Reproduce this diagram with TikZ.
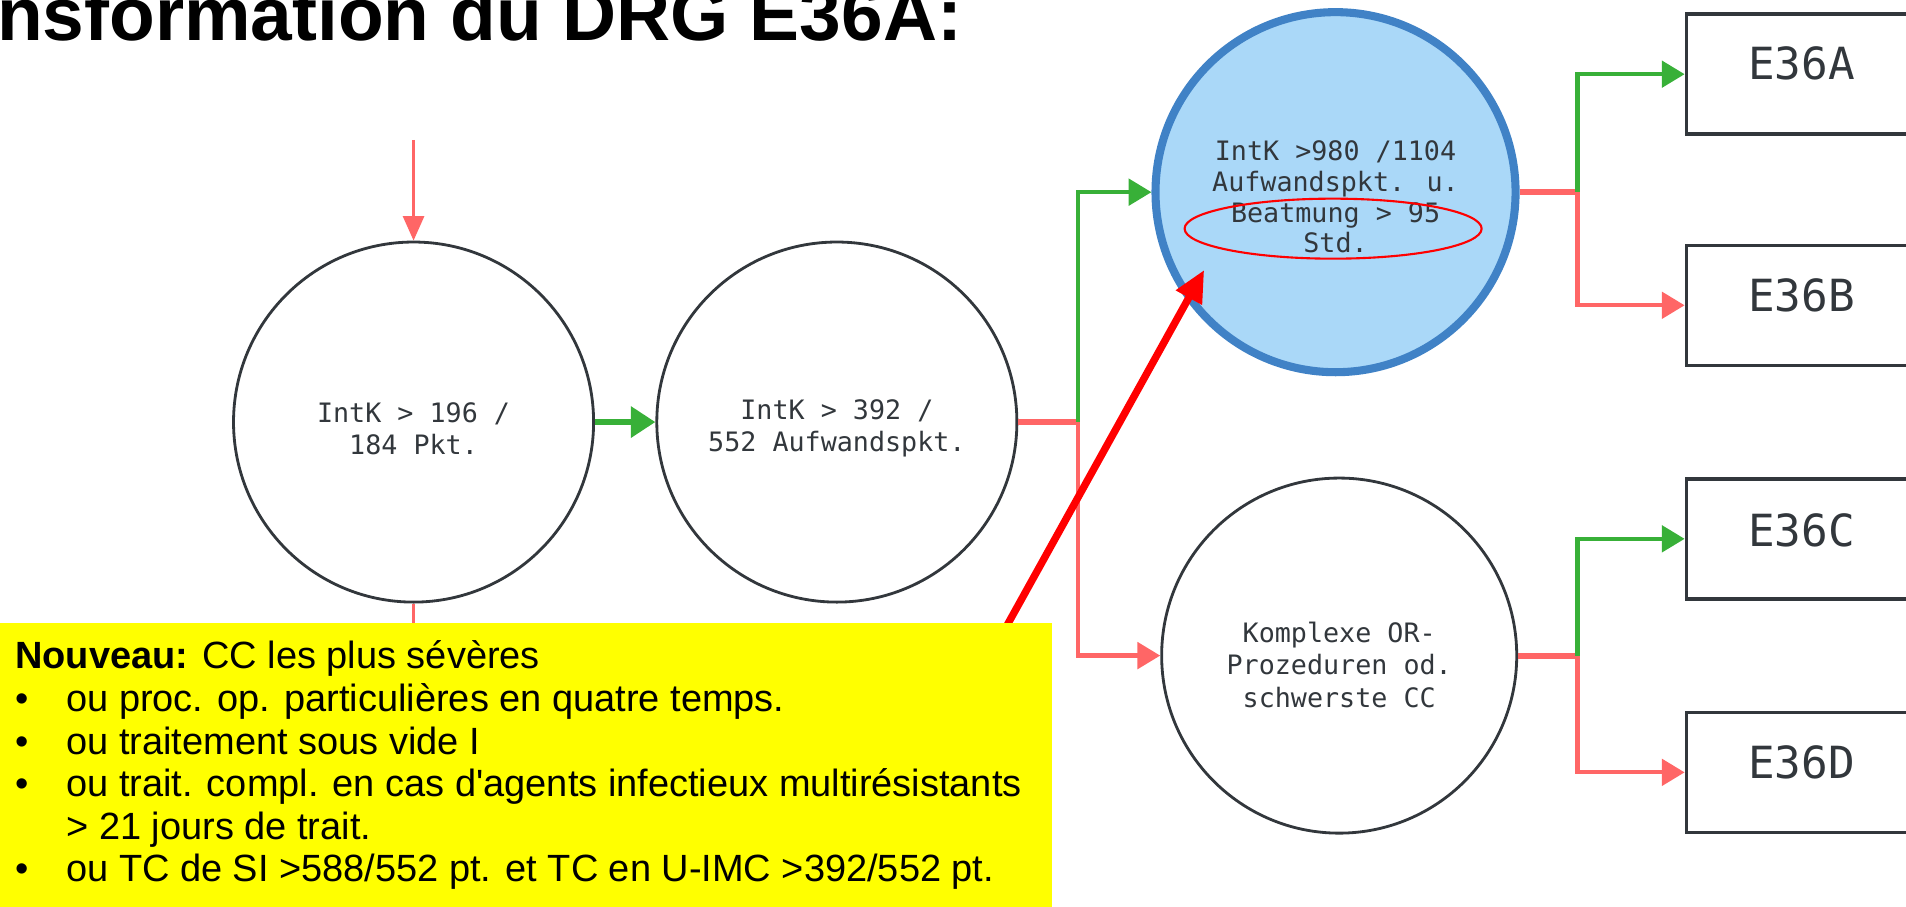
\documentclass[tikz,border=0pt]{standalone}
\usepackage{fontspec}
\setmainfont{Liberation Sans}
\newfontfamily\monof{DejaVu Sans Mono}
\usetikzlibrary{arrows.meta,shapes.geometric}
\definecolor{grn}{RGB}{56,176,56}
\definecolor{lred}{RGB}{255,102,102}
\definecolor{bluebd}{RGB}{64,130,198}
\definecolor{bluefl}{RGB}{170,216,248}
\definecolor{dgray}{RGB}{50,55,60}
\definecolor{yel}{RGB}{255,255,0}
\newcommand{\mtxt}[3]{\raisebox{-#1}[\height][\depth]{\vbox{\hsize=2.8cm\fontsize{7.6}{#2}\selectfont\lineskiplimit=-20pt\lineskip=0pt\centering #3\par}}}
\tikzset{
  crc/.style={circle, draw=dgray, line width=0.8pt, minimum size=3.6cm, inner sep=0pt, align=center, text=dgray, font=\monof},
  bluecrc/.style={crc, draw=bluebd, fill=bluefl, line width=2.3pt},
  dbox/.style={rectangle, draw=dgray, line width=1pt, minimum width=2.6cm, minimum height=1.2cm, anchor=west, inner sep=0pt},
  boxlbl/.style={text=dgray, font=\monof\fontsize{12.6}{14}\selectfont, inner sep=0pt},
  gline/.style={draw=grn, line width=1.2pt, -{Triangle[length=6.5pt,width=7.5pt]}},
  gthick/.style={draw=grn, line width=1.7pt, -{Triangle[length=7pt,width=8.6pt]}},
  rline/.style={draw=lred, line width=1.2pt, -{Triangle[length=6.5pt,width=7.5pt]}},
  rthick/.style={draw=lred, line width=1.7pt},
  rthin/.style={draw=lred, line width=0.8pt},
}
\begin{document}
\begin{tikzpicture}[x=0.012165cm,y=-0.012165cm]
\useasboundingbox (0,0) rectangle (1567,745);
% title (cut at top)
\node[anchor=base west, inner sep=0pt, font=\bfseries\fontsize{21.3}{24}\selectfont] (title) at (-3,33) {nsformation du DRG E36A:};
% circles
\node[crc] (c1) at (340,347) {\mtxt{1.9pt}{9.1pt}{IntK > 196 /\\ 184 Pkt.}};
\node[crc] (c2) at (688,347) {\mtxt{1.9pt}{9.1pt}{IntK > 392 /\\552 Aufwandspkt.}};
\node[bluecrc] (c3) at (1098,158) {\mtxt{1.4pt}{8.7pt}{IntK >980 /1104\\Aufwandspkt. u.\\Beatmung > 95\\Std.}};
\node[crc, minimum size=3.55cm] (c4) at (1101,539) {\mtxt{2.6pt}{9.3pt}{Komplexe OR-\\Prozeduren od.\\schwerste CC}};
\node[ellipse, draw=red, line width=0.6pt, minimum width=2.97cm, minimum height=0.6cm, inner sep=0pt] (hl) at (1096,188) {};
% boxes
\node[dbox] (bA) at (1385,61) {};
\node[dbox] (bB) at (1385,251) {};
\node[dbox] (bC) at (1385,443) {};
\node[dbox] (bD) at (1385,635) {};
\node[boxlbl] (lA) at (1481,52) {E36A};
\node[boxlbl] (lB) at (1481,243) {E36B};
\node[boxlbl] (lC) at (1481,436) {E36C};
\node[boxlbl] (lD) at (1481,627) {E36D};
% junctions
\coordinate (top) at (340,115);
\coordinate (j1) at (886,347);
\coordinate (j2) at (1297,158);
\coordinate (j3) at (1297,539);
\coordinate (c1end) at (340,530);
% connectors
\draw[rthin, -{Triangle[length=7pt,width=6pt]}] (top) -- (c1.north);
\draw[gthick] (c1.east) -- (c2.west);
\draw[rthick] (c2.east) -- (j1);
\draw[gline] (j1) |- (c3.west);
\draw[rline] (j1) |- (c4.west);
\draw[rthick] (c3.east) -- (j2);
\draw[gline] (j2) |- (bA.west);
\draw[rline] (j2) |- (bB.west);
\draw[rthick] (c4.east) -- (j3);
\draw[gline] (j3) |- (bC.west);
\draw[rline] (j3) |- (bD.west);
\draw[rthin] (c1.south) -- (c1end);
% big red arrow
\coordinate (rs) at (828,514);
\coordinate (re) at (990,222);
\draw[red, line width=2.1pt, -{Triangle[length=9pt,width=8pt]}] (rs) -- (re);
% yellow note
\fill[yel] (0,512) rectangle (865,760);
\node[anchor=base west, inner sep=0pt] (note) at (12,550) {\begin{minipage}[t]{11cm}\fontsize{10.8}{12.1}\selectfont\lineskiplimit=-20pt\lineskip=0pt\raggedright
\textbf{Nouveau:} CC les plus sévères\\
\makebox[0.51cm][l]{•}ou proc. op. particulières en quatre temps.\\
\makebox[0.51cm][l]{•}ou traitement sous vide I\\
\makebox[0.51cm][l]{•}ou trait. compl. en cas d\textquotesingle agents infectieux multirésistants\\
\makebox[0.51cm][l]{}> 21 jours de trait.\\
\makebox[0.51cm][l]{•}ou TC de SI >588/552 pt. et TC en U-IMC >392/552 pt.
\end{minipage}};
\end{tikzpicture}
\end{document}
